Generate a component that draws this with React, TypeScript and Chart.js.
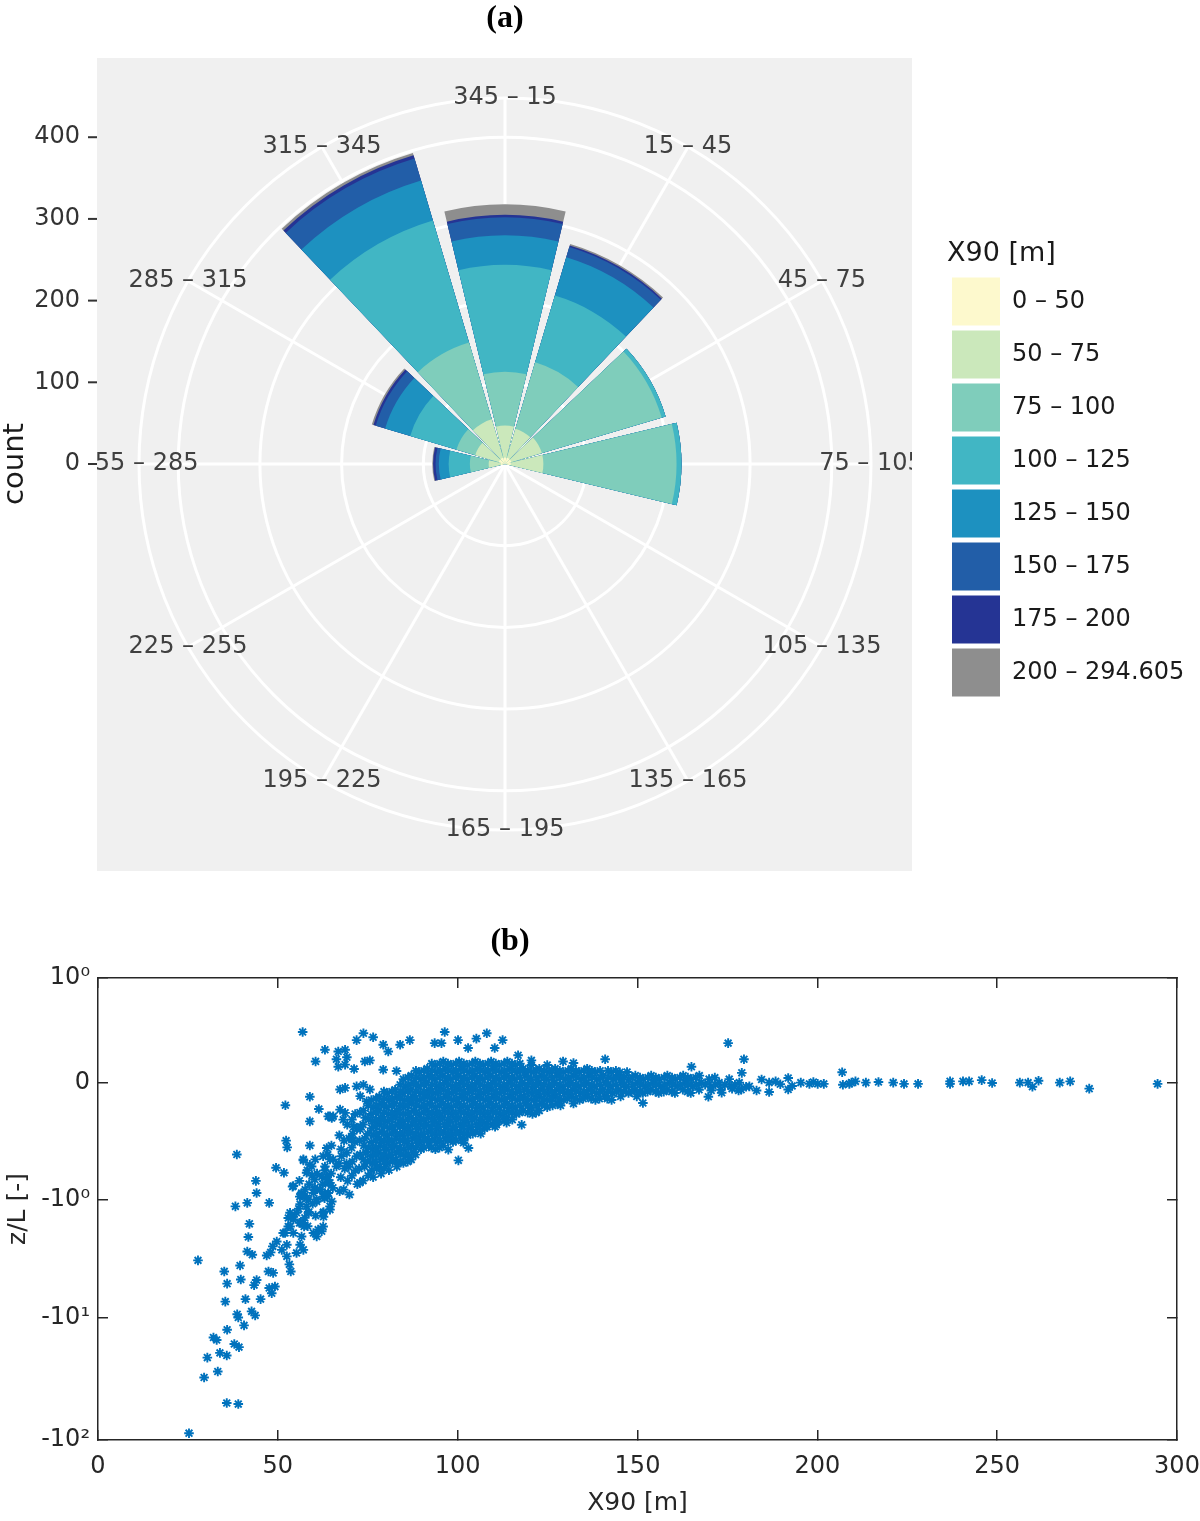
import React, { useEffect, useRef } from "react";
import { Chart, registerables, LinearScale } from "chart.js";

// ---------- (a) wind rose: counts per 30 degree sector, one array per X90 class ----------
const directionLabels = [
  "345 \u2013 15", "15 \u2013 45", "45 \u2013 75", "75 \u2013 105", "105 \u2013 135", "135 \u2013 165",
  "165 \u2013 195", "195 \u2013 225", "225 \u2013 255", "255 \u2013 285", "285 \u2013 315", "315 \u2013 345",
];
const x90Classes = [
  "0 \u2013 50", "50 \u2013 75", "75 \u2013 100", "100 \u2013 125",
  "125 \u2013 150", "150 \u2013 175", "175 \u2013 200", "200 \u2013 294.605",
];
const classColours = ["#fdf9cd", "#cbe8bb", "#7fcdbb", "#41b6c4", "#1d91c0", "#225ea8", "#253494", "#8e8e8e"];

const count0to50 = [8, 8, 8, 7, 0, 0, 0, 0, 0, 5, 8, 8];
const count50to75 = [39, 37, 39, 40, 0, 0, 0, 0, 0, 15, 30, 49];
const count75to100 = [66, 85, 153, 163, 0, 0, 0, 0, 0, 23, 24, 98];
const count100to125 = [131, 85, 5, 6, 0, 0, 0, 0, 0, 26, 59, 156];
const count125to150 = [36, 49, 0, 0, 0, 0, 0, 0, 0, 12, 32, 51];
const count150to175 = [22, 13, 0, 0, 0, 0, 0, 0, 0, 4, 12, 28];
const count175to200 = [3, 2, 0, 0, 0, 0, 0, 0, 0, 3, 3, 4];
const count200plus = [13, 2, 0, 0, 0, 0, 0, 0, 0, 1, 2, 3];
const classCounts = [
  count0to50, count50to75, count75to100, count100to125,
  count125to150, count150to175, count175to200, count200plus,
];

const countTicks = [0, 100, 200, 300, 400];
const ringValues = [0, 100, 200, 300, 400, 448];

// ---------- (b) z/L against X90 ----------
const xTicks = [0, 50, 100, 150, 200, 250, 300];
const zTickValues = [-100, -10, -1, 0, 1];
const zTickLabels = ["-10\u00b2", "-10\u00b9", "-10\u2070", "0", "10\u2070"];

// sparse points, left part
const steepTail: number[][] = [
  [56.9, 0.26], [63.1, 0.14], [60.5, 0.08], [58.9, -0.038], [52.1, -0.066], [61.4, -0.08], [58.9, -0.133], [64.0, -0.11],
  [52.3, -0.245], [52.6, -0.295], [58.9, -0.28], [38.6, -0.355], [57.1, -0.41], [49.5, -0.49], [51.7, -0.55], [43.9, -0.66],
  [44.1, -0.86], [54.3, -0.74], [41.5, -1.06], [38.2, -1.14], [47.6, -1.06], [42.1, -1.63], [41.8, -2.12], [41.5, -2.82],
  [42.9, -3.0], [27.8, -3.35], [35.1, -4.15], [39.5, -3.7], [35.9, -5.25], [39.7, -4.85], [43.4, -5.4], [44.1, -4.9],
  [35.4, -7.4], [41.0, -7.05], [45.2, -7.05], [38.7, -9.4], [39.0, -10.0], [42.7, -8.9], [43.7, -9.6], [40.6, -11.6],
  [35.9, -12.6], [32.1, -14.6], [33.0, -15.3], [30.4, -21.3], [33.9, -19.5], [35.8, -20.5], [37.9, -16.5], [39.2, -17.5],
  [29.5, -31], [33.3, -27.7], [35.8, -50], [39.0, -51], [25.3, -88],
  [47.6, -5.7], [48.3, -6.3], [49.2, -5.55], [46.9, -3.05], [48.0, -2.87], [48.7, -4.27], [47.4, -4.15], [48.6, -2.55],
  [49.7, -2.32], [51.1, -2.73], [52.5, -2.47], [52.0, -1.96], [53.4, -1.72], [53.6, -4.15], [53.2, -3.62], [54.3, -1.49],
  [55.2, -1.3], [56.2, -1.09], [56.6, -0.86], [57.6, -0.8], [58.5, -0.99], [59.9, -0.86], [60.8, -0.99], [61.7, -0.8],
  [62.2, -0.6], [63.1, -0.475], [63.6, -0.643], [64.0, -0.86], [64.5, -1.14], [62.7, -1.41], [60.8, -2.1], [62.2, -1.89],
  [56.2, -2.47], [57.1, -2.73], [55.2, -2.9], [54.3, -1.96], [53.4, -1.3], [52.9, -1.45], [54.1, -0.75], [52.5, -3.1],
  [58.0, -0.55], [59.4, -0.475], [60.3, -0.643], [56.0, -1.6], [57.3, -1.72], [56.6, -2.1], [58.5, -1.3], [59.9, -1.96],
  [64.5, -0.4], [63.1, -0.86],
];

// stragglers around the cloud
const cloudEdge: number[][] = [
  [66.8, 0.13], [68.7, 0.14], [69.2, 0.1], [66.3, 0.09], [66.8, 0.057], [68.7, 0.066], [71.2, 0.048], [73.8, 0.25],
  [76.5, 0.22], [71.9, 0.2], [79.3, 0.17], [80.7, 0.13], [84.0, 0.17], [86.7, 0.2], [96.4, 0.26], [93.6, 0.18], [95.5, 0.18],
  [100.1, 0.2], [105.2, 0.21], [108.1, 0.25], [112.5, 0.2], [102.9, 0.15], [110.3, 0.15], [116.8, 0.11], [120.5, 0.085],
  [74.2, 0.08], [75.6, 0.085], [79.3, 0.045], [83.0, 0.04],
  [65.0, -0.117], [63.6, -0.3], [57.1, -0.4], [58.9, -0.456],
  [67.3, -0.017], [68.7, -0.013], [64.5, -0.11], [65.4, -0.11], [67.3, -0.082], [68.7, -0.095], [71.9, -0.009], [73.8, -0.005],
  [75.6, -0.017], [72.9, -0.036], [74.7, -0.052], [71.1, -0.16], [72.9, -0.175], [68.2, -0.125], [70.5, -0.227], [67.7, -0.37],
  [69.1, -0.44], [66.3, -0.475], [63.6, -0.6], [64.5, -0.69], [60.3, -0.8], [62.6, -0.93], [56.1, -0.93], [58.0, -1.14],
  [54.3, -1.41], [57.1, -1.6], [52.9, -1.72], [51.5, -1.96], [62.6, -1.3], [64.5, -1.22], [61.2, -1.83], [62.6, -1.72],
  [100.2, -0.41], [97.4, -0.313], [101.6, -0.26], [103.0, -0.3], [108.0, -0.16], [110.8, -0.15], [113.6, -0.14], [117.8, -0.15],
  [70.6, -0.125], [70.8, -0.2], [70.5, -0.297], [70.7, -0.423], [70.6, -0.587],
  [72.8, -0.094], [73.0, -0.16], [72.7, -0.245], [72.9, -0.356], [72.6, -0.5], [72.8, -0.688],
  [75.1, -0.067], [75.3, -0.125], [75.0, -0.2], [75.2, -0.297], [74.9, -0.423], [75.1, -0.587],
  [63.9, -0.356], [64.1, -0.688], [63.8, -0.93], [68.4, -0.245], [68.6, -0.5], [68.3, -0.8], [59.5, -0.587], [59.7, -1.08],
  [57.3, -0.93], [57.5, -1.44],
];

// dense cloud
const denseCloud: number[][] = [
  [56.0, -0.66], [56.5, -0.89], [55.8, -1.2], [56.4, -1.6],
  [58.2, -0.52], [58.7, -0.71], [58.1, -0.96], [58.6, -1.28], [58.3, -1.71],
  [60.4, -0.4], [60.9, -0.56], [60.3, -0.77], [60.8, -1.03], [60.5, -1.38],
  [62.6, -0.37], [63.1, -0.52], [62.5, -0.71], [63.0, -0.96], [62.7, -1.28],
  [64.9, -0.28], [65.4, -0.4], [64.8, -0.56], [65.3, -0.77], [65.0, -1.03],
  [67.1, -0.21], [67.6, -0.31], [67.0, -0.44], [67.5, -0.61], [67.2, -0.83],
  [69.3, -0.15], [69.8, -0.23], [69.2, -0.34], [69.7, -0.48], [69.4, -0.66], [69.9, -0.89],
  [71.5, -0.1], [72.0, -0.17], [71.4, -0.255], [71.9, -0.37], [71.6, -0.52], [72.1, -0.71],
  [73.8, -0.086], [74.3, -0.116], [73.7, -0.149], [74.2, -0.231], [73.9, -0.281], [74.4, -0.338], [73.8, -0.403], [74.1, -0.477], [73.7, -0.657],
  [76.0, -0.048], [76.5, -0.073], [75.9, -0.1], [76.4, -0.132], [76.1, -0.168], [76.6, -0.209], [76.0, -0.255], [76.3, -0.309], [75.9, -0.369], [76.4, -0.438], [76.1, -0.517], [76.5, -0.607],
  [78.2, -0.037], [78.7, -0.06], [78.1, -0.086], [78.6, -0.116], [78.3, -0.149], [78.8, -0.188], [78.2, -0.231], [78.5, -0.281], [78.1, -0.338], [78.6, -0.403], [78.3, -0.477], [78.7, -0.561],
  [80.4, -0.027], [80.9, -0.048], [80.3, -0.073], [80.8, -0.1], [80.5, -0.132], [81.0, -0.168], [80.4, -0.209], [80.7, -0.255], [80.3, -0.309], [80.8, -0.369], [80.5, -0.438], [80.9, -0.517],
  [82.6, -0.018], [83.1, -0.037], [82.5, -0.06], [83.0, -0.086], [82.7, -0.116], [83.2, -0.149], [82.6, -0.188], [82.9, -0.231], [82.5, -0.281], [83.0, -0.338], [82.7, -0.403], [83.1, -0.477],
  [84.9, 0.011], [85.4, -0.009], [84.8, -0.027], [85.3, -0.048], [85.0, -0.073], [85.5, -0.1], [84.9, -0.132], [85.2, -0.168], [84.8, -0.209], [85.3, -0.255], [85.0, -0.309], [85.4, -0.369], [84.9, -0.438],
  [87.1, 0.023], [87.6, 0.0], [87.0, -0.018], [87.5, -0.037], [87.2, -0.06], [87.7, -0.086], [87.1, -0.116], [87.4, -0.149], [87.0, -0.188], [87.5, -0.231], [87.2, -0.281], [87.6, -0.338], [87.1, -0.403],
  [89.3, 0.036], [89.8, 0.011], [89.2, -0.009], [89.7, -0.027], [89.4, -0.048], [89.9, -0.073], [89.3, -0.1], [89.6, -0.132], [89.2, -0.168], [89.7, -0.209], [89.4, -0.255], [89.8, -0.309],
  [91.5, 0.049], [92.0, 0.023], [91.4, 0.0], [91.9, -0.018], [91.6, -0.037], [92.1, -0.06], [91.5, -0.086], [91.8, -0.116], [91.4, -0.149], [91.9, -0.188], [91.6, -0.231], [92.0, -0.281],
  [93.8, 0.064], [94.3, 0.036], [93.7, 0.011], [94.2, -0.009], [93.9, -0.027], [94.4, -0.048], [93.8, -0.073], [94.1, -0.1], [93.7, -0.132], [94.2, -0.168], [93.9, -0.209], [94.3, -0.255], [93.8, -0.309],
  [96.0, 0.079], [96.5, 0.049], [95.9, 0.023], [96.4, 0.0], [96.1, -0.018], [96.6, -0.037], [96.0, -0.06], [96.3, -0.086], [95.9, -0.116], [96.4, -0.149], [96.1, -0.188], [96.5, -0.231], [96.0, -0.281],
  [98.2, 0.064], [98.7, 0.036], [98.1, 0.011], [98.6, -0.009], [98.3, -0.027], [98.8, -0.048], [98.2, -0.073], [98.5, -0.1], [98.1, -0.132], [98.6, -0.168], [98.3, -0.209], [98.7, -0.255],
  [100.4, 0.079], [100.9, 0.049], [100.3, 0.023], [100.8, 0.0], [100.5, -0.018], [101.0, -0.037], [100.4, -0.06], [100.7, -0.086], [100.3, -0.116], [100.8, -0.149], [100.5, -0.188], [100.9, -0.231],
  [102.7, 0.064], [103.2, 0.036], [102.6, 0.011], [103.1, -0.009], [102.8, -0.027], [103.3, -0.048], [102.7, -0.073], [103.0, -0.1], [102.6, -0.132], [103.1, -0.168], [102.8, -0.209],
  [104.9, 0.079], [105.4, 0.049], [104.8, 0.023], [105.3, 0.0], [105.0, -0.018], [105.5, -0.037], [104.9, -0.06], [105.2, -0.086], [104.8, -0.116], [105.3, -0.149], [105.0, -0.188],
  [107.1, 0.064], [107.6, 0.036], [107.0, 0.011], [107.5, -0.009], [107.2, -0.027], [107.7, -0.048], [107.1, -0.073], [107.4, -0.1], [107.0, -0.132], [107.5, -0.168],
  [109.3, 0.079], [109.8, 0.049], [109.2, 0.023], [109.7, 0.0], [109.4, -0.018], [109.9, -0.037], [109.3, -0.06], [109.6, -0.086], [109.2, -0.116], [109.7, -0.149],
  [111.6, 0.064], [112.1, 0.036], [111.5, 0.011], [112.0, -0.009], [111.7, -0.027], [112.2, -0.048], [111.6, -0.073], [111.9, -0.1], [111.5, -0.132],
  [113.8, 0.079], [114.3, 0.049], [113.7, 0.023], [114.2, 0.0], [113.9, -0.018], [114.4, -0.037], [113.8, -0.06], [114.1, -0.086], [113.7, -0.116],
  [116.0, 0.064], [116.5, 0.036], [115.9, 0.011], [116.4, -0.009], [116.1, -0.027], [116.6, -0.048], [116.0, -0.073], [116.3, -0.1],
  [118.2, 0.049], [118.7, 0.023], [118.1, 0.0], [118.6, -0.018], [118.3, -0.037], [118.8, -0.06], [118.2, -0.086],
  [120.5, 0.064], [121.0, 0.036], [120.4, 0.011], [120.9, -0.009], [120.6, -0.027], [121.1, -0.048], [120.5, -0.073], [120.8, -0.1],
  [122.7, 0.049], [123.2, 0.023], [122.6, 0.0], [123.1, -0.018], [122.8, -0.037], [123.3, -0.06], [122.7, -0.086],
  [124.9, 0.064], [125.4, 0.036], [124.8, 0.011], [125.3, -0.009], [125.0, -0.027], [125.5, -0.048], [124.9, -0.073],
  [127.1, 0.049], [127.6, 0.023], [127.0, 0.0], [127.5, -0.018], [127.2, -0.037], [127.7, -0.06],
  [129.4, 0.036], [129.9, 0.011], [129.3, -0.009], [129.8, -0.027], [129.5, -0.048],
  [131.6, 0.049], [132.1, 0.023], [131.5, 0.0], [132.0, -0.018], [131.7, -0.037], [132.2, -0.06],
  [133.8, 0.036], [134.3, 0.011], [133.7, -0.009], [134.2, -0.027], [133.9, -0.048],
  [136.0, 0.049], [136.5, 0.023], [135.9, 0.0], [136.4, -0.018], [136.1, -0.037],
  [138.2, 0.036], [138.7, 0.011], [138.1, -0.009], [138.6, -0.027], [138.3, -0.048],
  [140.5, 0.023], [141.0, 0.0], [140.4, -0.018], [140.9, -0.037],
  [142.7, 0.036], [143.2, 0.011], [142.6, -0.009], [143.1, -0.027], [142.8, -0.048],
  [144.9, 0.023], [145.4, 0.0], [144.8, -0.018], [145.3, -0.037],
  [147.1, 0.036], [147.6, 0.011], [147.0, -0.009], [147.5, -0.027],
  [149.4, 0.023], [149.9, 0.0], [149.3, -0.018], [149.8, -0.037],
  [151.6, 0.011], [152.1, -0.009], [151.5, -0.027],
  [153.8, 0.023], [154.3, 0.0], [153.7, -0.018],
  [156.0, 0.011], [156.5, -0.009], [155.9, -0.027],
  [158.3, 0.023], [158.8, 0.0], [158.2, -0.018],
  [160.5, 0.011], [161.0, -0.009], [160.4, -0.027],
  [162.7, 0.023], [163.2, 0.0], [162.6, -0.018],
  [164.9, 0.011], [165.4, -0.009], [164.8, -0.027],
  [167.2, 0.023], [167.7, 0.0], [167.1, -0.018],
  [169.9, 0.011], [170.4, -0.009], [172.7, 0.0], [173.2, -0.018],
  [175.5, 0.011], [176.0, -0.009], [178.3, 0.0], [178.8, -0.018], [181.1, -0.009],
];

// dense cloud, points lying between the ones above
const denseCloudFill: number[][] = [
  [77.3, -0.044], [77.5, -0.067], [77.2, -0.094], [77.4, -0.125], [77.1, -0.16], [77.5, -0.2], [77.3, -0.245], [77.2, -0.297], [77.4, -0.356], [77.1, -0.423], [77.5, -0.5],
  [79.5, -0.023], [79.7, -0.044], [79.4, -0.067], [79.6, -0.094], [79.3, -0.125], [79.7, -0.16], [79.5, -0.2], [79.4, -0.245], [79.6, -0.297], [79.3, -0.356], [79.7, -0.423], [79.5, -0.5],
  [81.7, -0.023], [81.9, -0.044], [81.6, -0.067], [81.8, -0.094], [81.5, -0.125], [81.9, -0.16], [81.7, -0.2], [81.6, -0.245], [81.8, -0.297], [81.5, -0.356], [81.9, -0.423],
  [84.0, -0.005], [84.2, -0.023], [83.9, -0.044], [84.1, -0.067], [83.8, -0.094], [84.2, -0.125], [84.0, -0.16], [83.9, -0.2], [84.1, -0.245], [83.8, -0.297], [84.2, -0.356], [84.0, -0.423],
  [86.2, 0.016], [86.4, -0.005], [86.1, -0.023], [86.3, -0.044], [86.0, -0.067], [86.4, -0.094], [86.2, -0.125], [86.1, -0.16], [86.3, -0.2], [86.0, -0.245], [86.4, -0.297], [86.2, -0.356], [86.1, -0.423],
  [88.4, 0.041], [88.6, 0.016], [88.3, -0.005], [88.5, -0.023], [88.2, -0.044], [88.6, -0.067], [88.4, -0.094], [88.3, -0.125], [88.5, -0.16], [88.2, -0.2], [88.6, -0.245], [88.4, -0.297], [88.3, -0.356],
  [90.6, 0.041], [90.8, 0.016], [90.5, -0.005], [90.7, -0.023], [90.4, -0.044], [90.8, -0.067], [90.6, -0.094], [90.5, -0.125], [90.7, -0.16], [90.4, -0.2], [90.8, -0.245], [90.6, -0.297],
  [92.8, 0.07], [93.0, 0.041], [92.7, 0.016], [92.9, -0.005], [92.6, -0.023], [93.0, -0.044], [92.8, -0.067], [92.7, -0.094], [92.9, -0.125], [92.6, -0.16], [93.0, -0.2], [92.8, -0.245], [92.7, -0.297],
  [95.0, 0.07], [95.2, 0.041], [94.9, 0.016], [95.1, -0.005], [94.8, -0.023], [95.2, -0.044], [95.0, -0.067], [94.9, -0.094], [95.1, -0.125], [94.8, -0.16], [95.2, -0.2], [95.0, -0.245], [94.9, -0.297],
  [97.3, 0.07], [97.5, 0.041], [97.2, 0.016], [97.4, -0.005], [97.1, -0.023], [97.5, -0.044], [97.3, -0.067], [97.2, -0.094], [97.4, -0.125], [97.1, -0.16], [97.5, -0.2], [97.3, -0.245],
  [99.5, 0.07], [99.7, 0.041], [99.4, 0.016], [99.6, -0.005], [99.3, -0.023], [99.7, -0.044], [99.5, -0.067], [99.4, -0.094], [99.6, -0.125], [99.3, -0.16], [99.7, -0.2], [99.5, -0.245],
  [101.7, 0.07], [101.9, 0.041], [101.6, 0.016], [101.8, -0.005], [101.5, -0.023], [101.9, -0.044], [101.7, -0.067], [101.6, -0.094], [101.8, -0.125], [101.5, -0.16], [101.9, -0.2], [101.7, -0.245],
  [104.0, 0.07], [104.2, 0.041], [103.9, 0.016], [104.1, -0.005], [103.8, -0.023], [104.2, -0.044], [104.0, -0.067], [103.9, -0.094], [104.1, -0.125], [103.8, -0.16], [104.2, -0.2],
  [106.2, 0.07], [106.4, 0.041], [106.1, 0.016], [106.3, -0.005], [106.0, -0.023], [106.4, -0.044], [106.2, -0.067], [106.1, -0.094], [106.3, -0.125], [106.0, -0.16], [106.4, -0.2],
  [108.4, 0.07], [108.6, 0.041], [108.3, 0.016], [108.5, -0.005], [108.2, -0.023], [108.6, -0.044], [108.4, -0.067], [108.3, -0.094], [108.5, -0.125], [108.2, -0.16],
  [110.6, 0.07], [110.8, 0.041], [110.5, 0.016], [110.7, -0.005], [110.4, -0.023], [110.8, -0.044], [110.6, -0.067], [110.5, -0.094], [110.7, -0.125], [110.4, -0.16],
  [112.9, 0.07], [113.1, 0.041], [112.8, 0.016], [113.0, -0.005], [112.7, -0.023], [113.1, -0.044], [112.9, -0.067], [112.8, -0.094], [113.0, -0.125],
  [115.1, 0.07], [115.3, 0.041], [115.0, 0.016], [115.2, -0.005], [114.9, -0.023], [115.3, -0.044], [115.1, -0.067], [115.0, -0.094], [115.2, -0.125],
  [117.3, 0.07], [117.5, 0.041], [117.2, 0.016], [117.4, -0.005], [117.1, -0.023], [117.5, -0.044], [117.3, -0.067], [117.2, -0.094],
  [119.5, 0.041], [119.7, 0.016], [119.4, -0.005], [119.6, -0.023], [119.3, -0.044], [119.7, -0.067], [119.5, -0.094],
  [121.8, 0.041], [122.0, 0.016], [121.7, -0.005], [121.9, -0.023], [121.6, -0.044], [122.0, -0.067], [121.8, -0.094],
  [124.0, 0.041], [124.2, 0.016], [123.9, -0.005], [124.1, -0.023], [123.8, -0.044], [124.2, -0.067],
  [126.2, 0.041], [126.4, 0.016], [126.1, -0.005], [126.3, -0.023], [126.0, -0.044], [126.4, -0.067],
  [128.4, 0.041], [128.6, 0.016], [128.3, -0.005], [128.5, -0.023], [128.2, -0.044], [128.6, -0.067],
  [130.7, 0.041], [130.9, 0.016], [130.6, -0.005], [130.8, -0.023], [130.5, -0.044],
  [132.9, 0.041], [133.1, 0.016], [132.8, -0.005], [133.0, -0.023], [132.7, -0.044],
  [135.1, 0.041], [135.3, 0.016], [135.0, -0.005], [135.2, -0.023], [134.9, -0.044],
  [137.3, 0.041], [137.5, 0.016], [137.2, -0.005], [137.4, -0.023], [137.1, -0.044],
  [139.6, 0.041], [139.8, 0.016], [139.5, -0.005], [139.7, -0.023], [139.4, -0.044],
  [141.8, 0.041], [142.0, 0.016], [141.7, -0.005], [141.9, -0.023], [141.6, -0.044],
  [144.0, 0.041], [144.2, 0.016], [143.9, -0.005], [144.1, -0.023],
  [146.2, 0.016], [146.4, -0.005], [146.1, -0.023],
  [148.5, 0.016], [148.7, -0.005], [148.4, -0.023],
  [150.7, 0.016], [150.9, -0.005], [150.6, -0.023],
  [152.9, 0.016], [153.1, -0.005], [152.8, -0.023],
  [155.1, 0.016], [155.3, -0.005], [155.0, -0.023],
  [157.4, 0.016], [157.6, -0.005], [157.3, -0.023],
  [159.6, 0.016], [159.8, -0.005], [159.5, -0.023],
  [161.8, 0.016], [162.0, -0.005],
  [164.0, 0.016], [164.2, -0.005], [163.9, -0.023],
  [166.2, 0.016], [166.4, -0.005],
  [168.8, -0.005], [171.5, 0.016], [171.7, -0.005], [174.3, -0.005], [177.1, -0.005],
];

// long right tail near zero
const flatTail: number[][] = [
  [294.6, -0.003], [275.6, -0.015], [270.3, 0.004], [267.4, 0.0], [261.5, 0.006], [259.8, -0.01], [258.6, 0.0], [256.3, 0.0],
  [248.6, -0.001], [245.7, 0.008], [242.2, 0.004], [240.5, 0.004], [236.9, -0.003], [236.9, 0.004], [228.0, -0.003], [224.1, -0.003],
  [221.1, 0.0], [217.0, 0.002], [213.5, 0.0], [210.6, 0.004], [208.9, -0.003], [207.1, -0.005], [206.9, 0.035], [201.8, -0.003],
  [200.1, -0.003], [197.8, -0.003], [195.4, 0.0], [191.9, 0.015], [191.9, -0.017], [189.7, -0.004], [188.4, 0.004], [186.6, 0.0],
  [186.6, -0.024], [183.1, -0.02], [179.6, 0.09], [179.0, 0.033], [175.2, 0.18], [165.0, 0.057], [169.7, -0.038], [141.0, 0.09],
  [145.1, 0.035], [129.3, 0.08], [132.2, 0.073], [151.5, -0.058], [184.5, 0.01], [193.0, -0.008], [198.9, 0.002], [209.5, 0.0],
  [170.5, -0.02], [173.4, -0.026], [176.3, -0.015], [178.1, -0.02], [180.2, -0.01],
];

// ---------- symmetric log axis for z/L ----------
const POS_SCALE = 0.1645;
const NEG_SCALE = 0.125;
const symlog = (v: number) => (v >= 0 ? Math.log10(1 + v / POS_SCALE) : -Math.log10(1 - v / NEG_SCALE));
const symexp = (t: number) => (t >= 0 ? POS_SCALE * (Math.pow(10, t) - 1) : -NEG_SCALE * (Math.pow(10, -t) - 1));

class SymLogScale extends LinearScale {
  static id = "symlog";
  static defaults = {};
  _tStart = 0;
  _tRange = 1;

  buildTicks() {
    return zTickValues.map((value) => ({ value }));
  }

  configure() {
    super.configure();
    this._tStart = symlog(this.min);
    this._tRange = symlog(this.max) - this._tStart;
  }

  getPixelForValue(value: number) {
    if (value === null || value === undefined || isNaN(value)) return NaN;
    return this.getPixelForDecimal((symlog(value) - this._tStart) / this._tRange);
  }

  getValueForPixel(pixel: number) {
    return symexp(this._tStart + this.getDecimalForPixel(pixel) * this._tRange);
  }
}

Chart.register(...registerables, SymLogScale as any);

const SECTOR_WIDTH = 27;
const SECTOR_GAP = 3;
const TEXT = "#262626";

// grey square, direction labels and the separate "count" axis of the rose
const roseFrame = {
  id: "roseFrame",
  beforeDraw(chart: any) {
    const r = chart.scales.r;
    const ctx = chart.ctx;
    ctx.save();
    ctx.fillStyle = "#f0f0f0";
    ctx.fillRect(r.xCenter - 408, r.yCenter - 406, 815, 813);
    ctx.restore();
  },
  afterDraw(chart: any) {
    const r = chart.scales.r;
    const ctx = chart.ctx;
    const left = r.xCenter - 408;
    const top = r.yCenter - 406;

    ctx.save();
    ctx.beginPath();
    ctx.rect(left, top, 815, 813);
    ctx.clip();
    ctx.font = '24px "DejaVu Sans"';
    ctx.fillStyle = "#404040";
    ctx.textAlign = "center";
    ctx.textBaseline = "middle";
    const labelDist = r.getDistanceFromCenterForValue(ringValues[ringValues.length - 1]);
    directionLabels.forEach((text, i) => {
      const p = r.getPointPosition(i, labelDist);
      ctx.fillText(text, p.x, p.y);
    });
    ctx.restore();

    ctx.save();
    ctx.font = '24px "DejaVu Sans"';
    ctx.fillStyle = "#333333";
    ctx.strokeStyle = "#333333";
    ctx.lineWidth = 2;
    ctx.textAlign = "right";
    ctx.textBaseline = "middle";
    countTicks.forEach((v) => {
      const y = r.yCenter - r.getDistanceFromCenterForValue(v);
      ctx.fillText(String(v), left - 17, y);
      ctx.beginPath();
      ctx.moveTo(left - 9, y);
      ctx.lineTo(left, y);
      ctx.stroke();
    });
    ctx.translate(15, r.yCenter);
    ctx.rotate(-Math.PI / 2);
    ctx.textAlign = "center";
    ctx.font = '29px "DejaVu Sans"';
    ctx.fillStyle = "#1a1a1a";
    ctx.fillText("count", 0, 0);
    ctx.restore();
  },
};

const panelLabel = {
  id: "panelLabel",
  afterDraw(chart: any, _args: any, opts: any) {
    const ctx = chart.ctx;
    ctx.save();
    ctx.font = 'bold 32px "Liberation Serif"';
    ctx.fillStyle = "#000";
    ctx.textAlign = "center";
    ctx.textBaseline = "middle";
    ctx.fillText(opts.text, opts.x, opts.y);
    ctx.restore();
  },
};

const WindRose: React.FC = () => {
  const canvasRef = useRef<HTMLCanvasElement>(null);

  useEffect(() => {
    if (!canvasRef.current) return;
    const angles = [-SECTOR_WIDTH / 2, ...directionLabels.flatMap(() => [SECTOR_WIDTH, SECTOR_GAP])];
    // each class is drawn from the centre out to its cumulative count, smaller ones on top
    const datasets = classCounts.map((_, b) => ({
      label: x90Classes[b],
      data: [
        0,
        ...directionLabels.flatMap((_, d) => [
          classCounts.slice(0, b + 1).reduce((sum, arr) => sum + arr[d], 0),
          0,
        ]),
      ],
      backgroundColor: classColours[b],
      borderWidth: 0,
      angle: angles,
    }));

    const chart = new Chart(canvasRef.current, {
      type: "polarArea",
      data: { labels: directionLabels, datasets: datasets as any },
      options: {
        responsive: false,
        animation: false,
        events: [],
        layout: { padding: { left: 63, right: 13, top: 0, bottom: 70 }, autoPadding: false },
        scales: {
          r: {
            min: 0,
            max: 448,
            startAngle: 0,
            ticks: { display: false },
            afterBuildTicks: (s: any) => {
              s.ticks = ringValues.map((value) => ({ value }));
            },
            grid: { circular: true, color: "#ffffff", lineWidth: 3 },
            angleLines: { display: true, color: "#ffffff", lineWidth: 3 },
            pointLabels: { display: false },
          } as any,
        },
        plugins: {
          title: {
            display: true,
            text: "(a)",
            fullSize: false,
            color: "#000",
            font: { family: "Liberation Serif", size: 32, weight: "bold" },
            padding: { top: 0, bottom: 59.6 },
          },
          legend: {
            position: "right",
            align: "start",
            maxWidth: 240,
            title: {
              display: true,
              text: "X90 [m]",
              position: "start",
              color: "#1a1a1a",
              font: { family: "DejaVu Sans", size: 27 },
              padding: { top: 240, bottom: 0 },
            },
            labels: {
              boxWidth: 48,
              boxHeight: 48,
              padding: 5,
              color: "#1a1a1a",
              font: { family: "DejaVu Sans", size: 24 },
              generateLabels: (c: any) =>
                c.data.datasets.map((ds: any, i: number) => ({
                  text: ds.label,
                  fillStyle: ds.backgroundColor,
                  strokeStyle: ds.backgroundColor,
                  lineWidth: 0,
                  hidden: false,
                  datasetIndex: i,
                })),
            },
          } as any,
          tooltip: { enabled: false },
        },
      },
      plugins: [roseFrame],
    });

    return () => {
      chart.destroy();
    };
  }, []);

  return <canvas ref={canvasRef} width={1200} height={900} style={{ display: "block" }} />;
};

const StabilityScatter: React.FC = () => {
  const canvasRef = useRef<HTMLCanvasElement>(null);

  useEffect(() => {
    if (!canvasRef.current) return;
    const points = [...denseCloud, ...denseCloudFill, ...cloudEdge, ...steepTail, ...flatTail].map(([x, y]) => ({ x, y }));
    const grid = { drawOnChartArea: false, tickLength: -10, color: TEXT, lineWidth: 1.5 };
    const border = { display: true, color: TEXT, width: 1.5 };
    const setXTicks = (s: any) => {
      s.ticks = xTicks.map((value) => ({ value }));
    };
    const fixHeight = (h: number) => (s: any) => {
      s.height = h;
      s.paddingLeft = 0;
      s.paddingRight = 0;
    };
    const fixWidth = (w: number) => (s: any) => {
      s.width = w;
      s.paddingTop = 0;
      s.paddingBottom = 0;
    };

    const chart = new Chart(canvasRef.current, {
      type: "scatter",
      data: {
        datasets: [
          {
            data: points,
            pointStyle: "star",
            pointRadius: 4.8,
            borderWidth: 1.9,
            borderColor: "#0072bd",
            backgroundColor: "#0072bd",
          },
        ],
      },
      options: {
        responsive: false,
        animation: false,
        events: [],
        layout: { padding: 0, autoPadding: false },
        scales: {
          x: {
            type: "linear",
            position: "bottom",
            min: 0,
            max: 300,
            afterBuildTicks: setXTicks,
            afterFit: fixHeight(81),
            grid,
            border,
            ticks: { padding: 22, maxRotation: 0, color: TEXT, font: { family: "DejaVu Sans", size: 24 } },
            title: {
              display: true,
              text: "X90 [m]",
              color: TEXT,
              font: { family: "DejaVu Sans", size: 25 },
              padding: { top: 0, bottom: 3 },
            },
          },
          x2: {
            type: "linear",
            position: "top",
            min: 0,
            max: 300,
            afterBuildTicks: setXTicks,
            afterFit: fixHeight(78),
            grid,
            border,
            ticks: { display: false },
          },
          y: {
            type: "symlog",
            position: "left",
            min: -100,
            max: 1,
            afterFit: fixWidth(98),
            grid,
            border,
            ticks: {
              padding: 18,
              color: TEXT,
              font: { family: "DejaVu Sans", size: 24 },
              callback: (v: any) => {
                const i = zTickValues.indexOf(Number(v));
                return i >= 0 ? zTickLabels[i] : "";
              },
            },
            title: {
              display: true,
              text: "z/L [-]",
              color: TEXT,
              font: { family: "DejaVu Sans", size: 25 },
              padding: { top: 3, bottom: 0 },
            },
          },
          y2: {
            type: "symlog",
            position: "right",
            min: -100,
            max: 1,
            afterFit: fixWidth(23),
            grid,
            border,
            ticks: { display: false },
          },
        } as any,
        plugins: {
          legend: { display: false },
          tooltip: { enabled: false },
          panelLabel: { text: "(b)", x: 510, y: 42 },
        } as any,
      },
      plugins: [panelLabel],
    });

    return () => {
      chart.destroy();
    };
  }, []);

  return <canvas ref={canvasRef} width={1200} height={621} style={{ display: "block" }} />;
};

export default function App() {
  useEffect(() => {
    document.body.style.margin = "0";
  }, []);

  return (
    <div style={{ width: 1200, background: "#ffffff" }}>
      <WindRose />
      <StabilityScatter />
    </div>
  );
}
